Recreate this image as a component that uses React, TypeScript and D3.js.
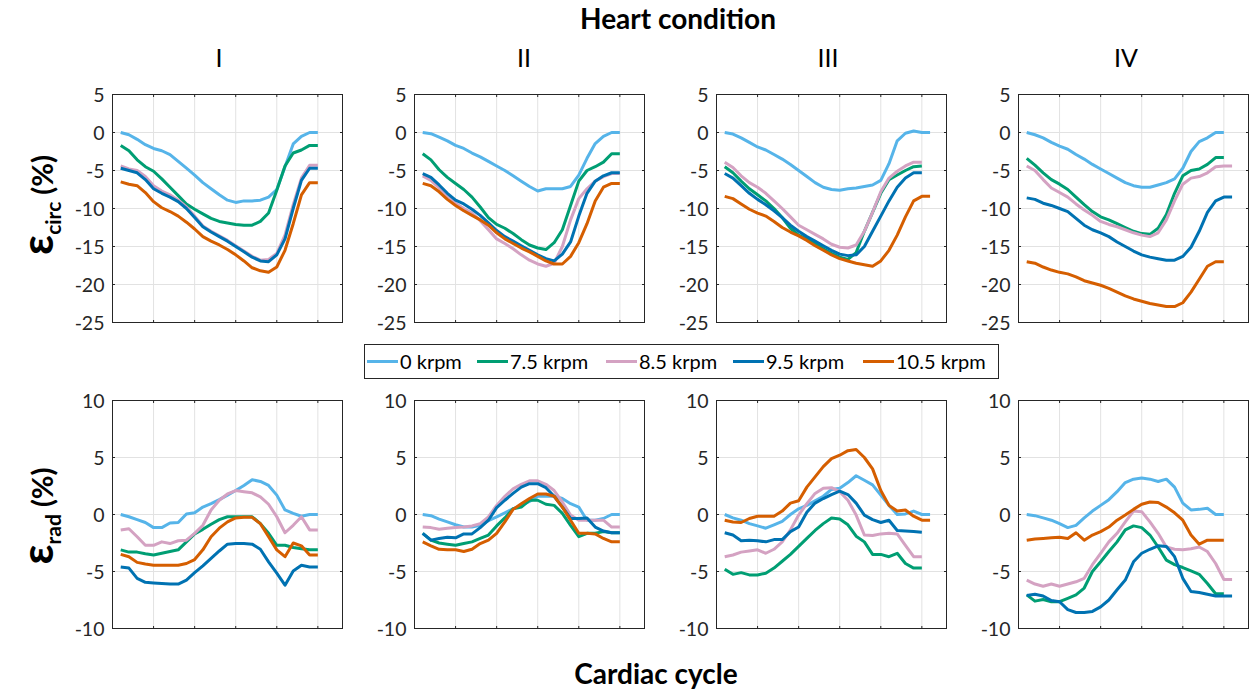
import React from 'react';
import * as d3 from 'd3';

const speeds = ['0 krpm', '7.5 krpm', '8.5 krpm', '9.5 krpm', '10.5 krpm'];
const colors = ['#56b4e9', '#009e73', '#d4a2c2', '#0072b2', '#d55e00'];
const conditions = ['I', 'II', 'III', 'IV'];
const circTicks = [-25, -20, -15, -10, -5, 0, 5];
const radTicks = [-10, -5, 0, 5, 10];
const frameGrid = [5, 10, 15, 20, 25];

// circumferential strain, one array per speed (frames 1..n)
const circI = [
  [0, -0.3, -0.9, -1.6, -2.1, -2.4, -2.9, -3.8, -4.7, -5.6, -6.6, -7.4, -8.2, -8.9, -9.2, -9.0, -9.0, -8.9, -8.5, -7.5, -4.5, -1.5, -0.5, 0, 0],
  [-1.7, -2.4, -3.6, -4.5, -5.1, -6.1, -7.2, -8.3, -9.4, -10.1, -10.7, -11.3, -11.7, -11.9, -12.1, -12.2, -12.2, -11.7, -10.6, -7.6, -4.4, -2.7, -2.3, -1.7, -1.7],
  [-4.4, -4.8, -5.0, -5.8, -7.0, -7.7, -8.2, -8.9, -9.8, -11.0, -12.3, -13.0, -13.6, -14.2, -14.9, -15.6, -16.3, -16.8, -16.7, -15.9, -13.5, -9.5, -6.0, -4.3, -4.3],
  [-4.7, -5.0, -5.3, -6.2, -7.4, -8.0, -8.5, -9.1, -10.0, -11.2, -12.4, -13.1, -13.7, -14.3, -15.0, -15.7, -16.4, -16.9, -17.0, -16.1, -14.0, -10.0, -6.3, -4.7, -4.7],
  [-6.5, -6.8, -7.0, -7.9, -9.1, -9.9, -10.4, -11.0, -11.8, -12.7, -13.7, -14.3, -14.8, -15.4, -16.1, -16.9, -17.8, -18.2, -18.4, -17.7, -15.5, -12.0, -8.2, -6.6, -6.6],
];
const circII = [
  [0, -0.15, -0.6, -1.1, -1.7, -2.1, -2.7, -3.2, -3.8, -4.4, -5.0, -5.7, -6.4, -7.1, -7.7, -7.4, -7.4, -7.4, -7.1, -5.6, -3.4, -1.45, -0.5, 0, 0],
  [-2.8, -3.6, -4.9, -5.9, -6.7, -7.5, -8.5, -9.8, -11.2, -12.1, -12.6, -13.3, -14.1, -14.8, -15.2, -15.4, -14.5, -12.8, -9.6, -6.4, -5.0, -4.5, -3.9, -2.8, -2.8],
  [-5.7, -6.3, -7.3, -8.3, -9.3, -10.0, -10.6, -11.6, -12.8, -14.0, -14.6, -15.3, -16.1, -16.8, -17.3, -17.6, -17.2, -15.0, -11.5, -8.7, -7.4, -6.4, -5.8, -5.4, -5.4],
  [-5.4, -5.9, -6.9, -8.0, -8.9, -9.4, -10.1, -10.9, -11.9, -12.9, -13.7, -14.3, -14.9, -15.5, -16.1, -16.6, -16.9, -16.0, -14.4, -11.0, -8.0, -6.4, -5.7, -5.3, -5.3],
  [-6.7, -7.0, -7.8, -8.8, -9.6, -10.3, -10.9, -11.5, -12.2, -13.2, -14.0, -14.6, -15.2, -15.7, -16.3, -16.9, -17.3, -17.3, -16.3, -14.5, -12.0, -9.0, -7.2, -6.7, -6.7],
];
const circIII = [
  [0, -0.2, -0.7, -1.3, -1.9, -2.3, -2.9, -3.5, -4.2, -5.0, -5.8, -6.6, -7.2, -7.5, -7.6, -7.4, -7.3, -7.1, -6.9, -6.3, -4.1, -1.1, -0.1, 0.2, 0, 0],
  [-4.5, -5.3, -6.4, -7.4, -8.2, -9.0, -10.0, -11.2, -12.6, -13.5, -14.0, -14.6, -15.3, -15.9, -16.4, -16.7, -15.8, -13.0, -10.5, -8.0, -6.2, -5.6, -5.0, -4.5, -4.4],
  [-3.9, -4.6, -5.7, -6.6, -7.2, -8.0, -9.0, -10.0, -11.1, -12.2, -12.8, -13.4, -14.0, -14.7, -15.1, -15.2, -14.8, -13.0, -10.5, -7.8, -6.0, -5.1, -4.4, -3.9, -3.9],
  [-5.4, -6.0, -7.0, -8.0, -8.8, -9.5, -10.3, -11.2, -12.2, -13.0, -13.7, -14.3, -14.9, -15.5, -16.0, -16.2, -16.1, -15.0, -13.0, -11.0, -9.0, -7.2, -6.0, -5.3, -5.3],
  [-8.4, -8.7, -9.4, -10.1, -10.6, -11.0, -11.7, -12.5, -13.1, -13.6, -14.2, -14.9, -15.5, -16.1, -16.6, -16.9, -17.2, -17.4, -17.6, -16.9, -15.5, -13.5, -11.1, -9.0, -8.4, -8.4],
];
const circIV = [
  [0, -0.3, -0.7, -1.3, -1.8, -2.2, -2.9, -3.5, -4.2, -4.8, -5.4, -6.0, -6.6, -7.0, -7.2, -7.2, -6.9, -6.6, -6.1, -4.7, -2.5, -1.2, -0.7, 0, 0],
  [-3.4, -4.3, -5.3, -6.2, -6.8, -7.5, -8.5, -9.5, -10.4, -11.1, -11.5, -12.0, -12.5, -13.0, -13.3, -13.4, -12.6, -10.8, -8.0, -5.7, -5.0, -4.8, -4.2, -3.3, -3.3],
  [-4.4, -5.0, -6.2, -7.3, -7.9, -8.5, -9.4, -10.2, -10.9, -11.7, -12.1, -12.4, -12.8, -13.2, -13.5, -13.7, -13.2, -11.5, -9.0, -6.8, -6.0, -5.8, -5.3, -4.5, -4.4, -4.4],
  [-8.6, -8.8, -9.3, -9.6, -10.0, -10.4, -11.3, -12.2, -12.8, -13.2, -13.7, -14.4, -15.0, -15.6, -16.1, -16.4, -16.6, -16.8, -16.8, -16.3, -15.1, -13.0, -10.5, -9.0, -8.5, -8.5],
  [-17.0, -17.2, -17.7, -18.1, -18.4, -18.6, -19.0, -19.5, -19.8, -20.1, -20.5, -21.0, -21.5, -21.9, -22.2, -22.5, -22.7, -22.9, -22.9, -22.4, -21.0, -19.3, -17.6, -17.0, -17.0],
];

// radial strain
const radI = [
  [0, -0.2, -0.45, -0.7, -1.15, -1.15, -0.75, -0.7, 0.05, 0.15, 0.65, 0.95, 1.3, 1.7, 2.1, 2.55, 3.05, 2.9, 2.55, 1.7, 0.4, 0.1, -0.15, 0, 0],
  [-3.1, -3.3, -3.3, -3.45, -3.55, -3.4, -3.25, -3.1, -2.4, -1.7, -1.3, -0.85, -0.45, -0.2, -0.2, -0.2, -0.2, -0.8, -1.65, -2.7, -2.7, -2.9, -3.0, -3.1, -3.1],
  [-1.35, -1.25, -1.95, -2.7, -2.7, -2.4, -2.55, -2.3, -2.25, -1.65, -0.95, 0.4, 1.25, 1.8, 2.1, 2.0, 1.9, 1.55, 0.9, -0.2, -1.6, -0.95, -0.2, -1.35, -1.35],
  [-4.6, -4.7, -5.6, -5.95, -6.0, -6.05, -6.1, -6.1, -5.75, -5.1, -4.5, -3.85, -3.2, -2.6, -2.55, -2.55, -2.6, -3.05, -4.15, -5.15, -6.2, -4.95, -4.45, -4.6, -4.6],
  [-3.5, -3.7, -4.2, -4.35, -4.45, -4.45, -4.45, -4.45, -4.3, -3.95, -3.1, -1.95, -1.2, -0.65, -0.3, -0.25, -0.25, -0.8, -1.95, -3.1, -3.7, -2.5, -2.75, -3.55, -3.55],
];
const radII = [
  [0, -0.1, -0.4, -0.65, -0.9, -1.1, -1.1, -0.95, -0.55, -0.2, 0.15, 0.5, 0.8, 1.15, 1.6, 1.6, 1.6, 1.4, 0.95, 0.65, -0.5, -0.5, -0.35, 0, 0],
  [-1.65, -2.25, -2.5, -2.6, -2.7, -2.55, -2.4, -2.1, -1.8, -1.0, -0.3, 0.5, 0.65, 1.25, 1.25, 0.9, 0.8, 0.1, -0.95, -1.95, -1.65, -1.65, -1.5, -1.6, -1.6],
  [-1.1, -1.15, -1.3, -1.2, -1.15, -1.1, -1.0, -0.8, -0.2, 0.8, 1.6, 2.25, 2.65, 2.95, 2.95, 2.65, 2.1, 1.1, -0.05, -0.5, -0.5, -0.5, -0.5, -1.1, -1.1],
  [-1.65, -2.25, -2.1, -2.0, -2.05, -1.7, -1.7, -1.15, -0.5, 0.6, 1.25, 1.85, 2.4, 2.7, 2.7, 2.35, 1.6, 0.65, -0.35, -0.35, -0.3, -1.1, -1.45, -1.6, -1.6],
  [-2.4, -2.75, -3.05, -3.1, -3.1, -3.25, -3.05, -2.55, -2.25, -1.65, -0.65, 0.45, 0.95, 1.4, 1.8, 1.8, 1.6, 0.65, -0.5, -1.65, -1.65, -1.7, -2.1, -2.4, -2.4],
];
const radIII = [
  [0, -0.3, -0.5, -0.8, -1.0, -1.2, -0.9, -0.6, 0.0, 0.5, 0.8, 1.2, 1.6, 2.2, 2.3, 2.8, 3.4, 3.0, 2.6, 1.7, 0.8, 0.0, 0.05, 0.3, 0, 0],
  [-4.8, -5.25, -5.1, -5.3, -5.3, -5.15, -4.7, -4.1, -3.5, -2.8, -2.1, -1.4, -0.8, -0.3, -0.4, -0.9, -1.9, -2.4, -3.5, -3.5, -3.7, -3.4, -4.3, -4.7, -4.7],
  [-3.7, -3.55, -3.3, -3.2, -3.1, -3.4, -3.05, -2.4, -1.35, -0.05, 0.95, 1.85, 2.3, 2.35, 2.0, 1.25, -0.05, -1.8, -1.85, -1.7, -1.65, -1.7, -2.7, -3.7, -3.7],
  [-1.6, -1.8, -2.3, -2.25, -2.3, -2.4, -2.2, -2.2, -1.5, -1.1, 0.2, 1.0, 1.4, 1.75, 2.05, 1.75, 1.0, -0.05, -0.45, -0.7, -0.5, -1.4, -1.45, -1.5, -1.55],
  [-0.5, -0.65, -0.7, -0.35, -0.15, -0.15, -0.15, 0.3, 1.0, 1.2, 2.4, 3.3, 4.2, 4.9, 5.2, 5.6, 5.7, 5.0, 4.0, 2.1, 0.8, 0.3, 0.4, -0.15, -0.5, -0.5],
];
const radIV = [
  [0, -0.1, -0.3, -0.5, -0.8, -1.15, -0.95, -0.3, 0.3, 0.8, 1.3, 2.0, 2.8, 3.1, 3.2, 3.1, 2.9, 3.1, 2.4, 1.0, 0.4, 0.45, 0.55, 0, 0],
  [-7.05, -7.6, -7.45, -7.65, -7.65, -7.35, -7.05, -6.45, -5.0, -4.15, -3.25, -2.4, -1.35, -1.0, -1.15, -1.8, -2.85, -4.0, -4.4, -4.65, -4.95, -5.25, -6.05, -6.95, -6.95],
  [-5.75, -6.1, -6.3, -6.1, -6.3, -6.1, -5.9, -5.6, -4.4, -3.4, -2.4, -1.65, -0.65, 0.3, 0.25, -0.65, -1.65, -2.85, -3.05, -3.1, -3.0, -2.85, -3.25, -4.3, -5.7, -5.7],
  [-7.1, -7.0, -7.15, -7.55, -7.65, -8.35, -8.6, -8.6, -8.5, -8.1, -7.5, -6.6, -5.75, -4.15, -3.4, -3.05, -2.75, -2.8, -3.7, -5.6, -6.75, -6.85, -7.0, -7.15, -7.15, -7.15],
  [-2.25, -2.15, -2.1, -2.05, -2.0, -2.1, -1.6, -2.25, -1.8, -1.5, -1.1, -0.5, -0.05, 0.45, 0.9, 1.1, 1.05, 0.65, 0.15, -0.5, -1.8, -2.6, -2.25, -2.25, -2.25],
];

const circPanels = [circI, circII, circIII, circIV];
const radPanels = [radI, radII, radIII, radIV];

const FONT = "Lato, 'Open Sans', 'DejaVu Sans', sans-serif";
const panelLeft = [112.5, 414.5, 716.5, 1018.5];
const panelW = 230;
const titleX = [219, 524, 828, 1126];
const legendX = [367, 477, 606, 733, 863];

type PanelProps = {
  left: number;
  top: number;
  height: number;
  domain: [number, number];
  ticks: number[];
  series: number[][];
};

function Panel({ left, top, height, domain, ticks, series }: PanelProps) {
  const x = d3.scaleLinear().domain([0, 28]).range([left, left + panelW]);
  const y = d3.scaleLinear().domain(domain).range([top + height, top]);
  const line = d3
    .line<number>()
    .x((_, i) => x(i + 1))
    .y((d) => y(d));
  const right = left + panelW;
  const bottom = top + height;
  return (
    <g>
      {ticks.map((t) => (
        <line key={'gy' + t} x1={left} x2={right} y1={y(t)} y2={y(t)} stroke="#e2e2e2" strokeWidth={1} />
      ))}
      {frameGrid.map((t) => (
        <line key={'gx' + t} x1={x(t)} x2={x(t)} y1={top} y2={bottom} stroke="#e2e2e2" strokeWidth={1} />
      ))}
      {series.map((s, i) => (
        <path key={i} d={line(s) || ''} fill="none" stroke={colors[i]} strokeWidth={3} strokeLinejoin="round" />
      ))}
      <rect x={left} y={top} width={panelW} height={height} fill="none" stroke="#262626" strokeWidth={1} />
      {frameGrid.map((t) => (
        <g key={'tx' + t}>
          <line x1={x(t)} x2={x(t)} y1={bottom} y2={bottom - 2.5} stroke="#262626" />
          <line x1={x(t)} x2={x(t)} y1={top} y2={top + 2.5} stroke="#262626" />
        </g>
      ))}
      {ticks.map((t) => (
        <g key={'ty' + t}>
          <line x1={left} x2={left + 2.5} y1={y(t)} y2={y(t)} stroke="#262626" />
          <line x1={right} x2={right - 2.5} y1={y(t)} y2={y(t)} stroke="#262626" />
          <text x={left - 8} y={y(t)} dy="0.36em" textAnchor="end" fontSize={19.5} fontFamily={FONT} fill="#262626">
            {t}
          </text>
        </g>
      ))}
    </g>
  );
}

export default function App() {
  return (
    <svg
      width={1250}
      height={694}
      style={{ position: 'absolute', left: 0, top: 0, background: '#fff' }}
      fontFamily={FONT}
    >
      <rect x={0} y={0} width={1250} height={694} fill="#fff" />
      <text x={678} y={29} textAnchor="middle" fontSize={28} fontWeight="bold" fill="#000">
        Heart condition
      </text>
      {conditions.map((c, i) => (
        <text key={c} x={titleX[i]} y={67} textAnchor="middle" fontSize={25} fill="#000">
          {c}
        </text>
      ))}
      {circPanels.map((s, i) => (
        <Panel key={'c' + i} left={panelLeft[i]} top={94.5} height={228} domain={[-25, 5]} ticks={circTicks} series={s} />
      ))}
      {radPanels.map((s, i) => (
        <Panel key={'r' + i} left={panelLeft[i]} top={400.5} height={228} domain={[-10, 10]} ticks={radTicks} series={s} />
      ))}
      {/* y labels */}
      <text transform="translate(53,205) rotate(-90)" textAnchor="middle" fontWeight="bold" fill="#000">
        <tspan fontSize={44}>ε</tspan>
        <tspan fontSize={21} dy={8}>circ</tspan>
        <tspan fontSize={29} dy={-8}> (%)</tspan>
      </text>
      <text transform="translate(53,516) rotate(-90)" textAnchor="middle" fontWeight="bold" fill="#000">
        <tspan fontSize={44}>ε</tspan>
        <tspan fontSize={21} dy={8}>rad</tspan>
        <tspan fontSize={29} dy={-8}> (%)</tspan>
      </text>
      <text x={656} y={684} textAnchor="middle" fontSize={28} fontWeight="bold" fill="#000">
        Cardiac cycle
      </text>
      {/* legend */}
      <rect x={364.5} y={344.5} width={634} height={34} fill="#fff" stroke="#262626" strokeWidth={1} />
      {speeds.map((s, i) => (
        <g key={s}>
          <line x1={legendX[i]} x2={legendX[i] + 31} y1={361.5} y2={361.5} stroke={colors[i]} strokeWidth={3} />
          <text x={legendX[i] + 33} y={368.5} fontSize={20} fill="#000">
            {s}
          </text>
        </g>
      ))}
    </svg>
  );
}
